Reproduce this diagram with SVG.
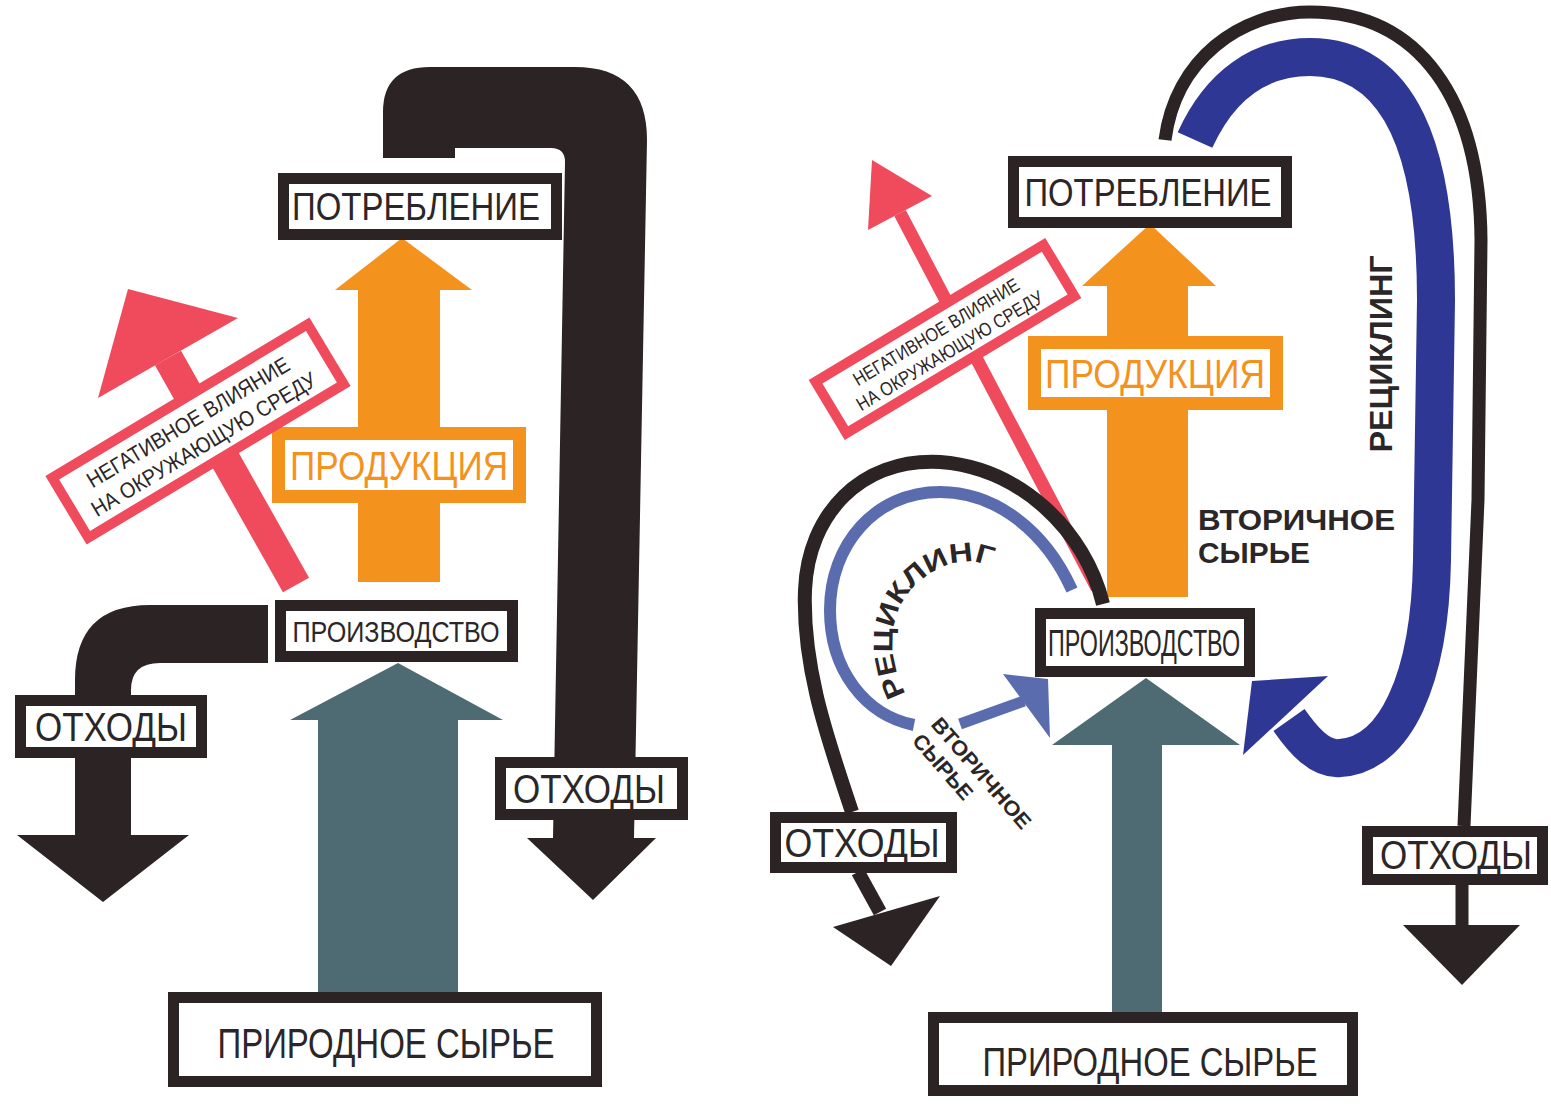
<svg xmlns="http://www.w3.org/2000/svg" width="1551" height="1106" viewBox="0 0 1551 1106">
<defs>
<style>
.bx{fill:#fff;stroke:#2b2324;stroke-width:11}
.ob{fill:#fff;stroke:#f4921e;stroke-width:13}
.rb{fill:#fff;stroke:#ef4b5c;stroke-width:10}
.pipe{fill:#2b2324}
.org{fill:#f4921e}
.red{fill:#ef4b5c}
.teal{fill:#4e6b73}
.t{font-family:"Liberation Sans",Arial,sans-serif;fill:#2b2627;text-anchor:middle}
.tb{font-family:"Liberation Sans",Arial,sans-serif;fill:#2b2627;font-weight:bold}
.to{font-family:"Liberation Sans",Arial,sans-serif;fill:#f4921e;text-anchor:middle}
</style>
</defs>
<rect width="1551" height="1106" fill="#fff"/>

<g id="connectors">
  <!-- LEFT DIAGRAM -->
  <path id="l-waste-top" class="pipe" d="M383 158 L383 112 Q383 67 430 67 L575 67 Q647 67 647 140 L634 838 L656 838 L593 900 L527 838 L553 838 L565 162 Q565 148 551 148 L455 148 L455 158 Z"/>
  <path id="l-waste-left" class="pipe" d="M268 605 L150 605 Q75 605 75 680 L75 835 L17 835 L103 902 L189 835 L131 835 L131 690 Q131 663 160 663 L268 663 Z"/>
  <polygon id="l-product" class="org" points="402,238 472,290 440,290 440,582 358,582 358,290 335,290"/>
  <polygon id="l-raw" class="teal" points="398,663 503,720 458,720 458,992 318,992 318,720 290,720"/>
  <line id="l-neg-shaft" x1="168" y1="358" x2="296" y2="585" stroke="#ef4b5c" stroke-width="30"/>
  <polygon id="l-neg-head" class="red" points="128,289 238,318 98,398"/>

  <!-- RIGHT DIAGRAM -->
  <polygon id="r-product" class="org" points="1150,224 1216,286 1188,286 1188,597 1107,597 1107,286 1082,286"/>
  <polygon id="r-raw" class="teal" points="1146,678 1240,745 1162,745 1162,1012 1112,1012 1112,745 1052,745"/>
  <line id="r-neg-shaft" x1="900" y1="213" x2="1097" y2="588" stroke="#ef4b5c" stroke-width="13"/>
  <polygon id="r-neg-head" class="red" points="872,160 932,196 868,230"/>
  <path id="r-black-big" d="M1165 140 C1175 60 1240 12 1310 12 C1420 12 1480 100 1481 240 L1478 500 L1464 826" fill="none" stroke="#2b2324" stroke-width="13"/>
  <line x1="1462" y1="884" x2="1462" y2="927" stroke="#2b2324" stroke-width="13"/>
  <polygon class="pipe" points="1403,925 1520,925 1462,985"/>
  <path id="r-blue-big" d="M1195 140 C1220 85 1260 57 1310 57 C1400 57 1436 150 1436 300 L1432 560 C1430 680 1395 755 1340 758 C1320 760 1303 740 1289 720" fill="none" stroke="#2f3795" stroke-width="38"/>
  <polygon fill="#2f3795" points="1252,681 1328,676 1243,755"/>
  <path id="r-blue-small" d="M1072 590 C1045 530 995 492 940 492 C875 492 830 545 830 610 C830 670 865 715 914 725" fill="none" stroke="#5a6cad" stroke-width="12"/>
  <line x1="960" y1="724" x2="1024" y2="701" stroke="#5a6cad" stroke-width="11"/>
  <polygon fill="#5a6cad" points="1003,674 1048,679 1050,738"/>
  <path id="r-black-small" d="M1103 604 C1085 530 1020 468 940 462 C860 458 808 515 805 590 C802 670 830 745 852 812" fill="none" stroke="#2b2324" stroke-width="14"/>
  <line x1="858" y1="872" x2="880" y2="912" stroke="#2b2324" stroke-width="14"/>
  <polygon class="pipe" points="833,927 940,896 891,966"/>
</g>

<!-- LEFT NODES -->
<g id="l-consumption">
  <rect class="bx" x="283.5" y="178.5" width="273" height="56"/>
  <text class="t" x="416" y="220" font-size="38" textLength="248" lengthAdjust="spacingAndGlyphs">ПОТРЕБЛЕНИЕ</text>
</g>
<g id="l-production-label">
  <rect class="ob" x="278.5" y="433.5" width="241" height="63"/>
  <text class="to" x="399" y="480" font-size="40" textLength="218" lengthAdjust="spacingAndGlyphs">ПРОДУКЦИЯ</text>
</g>
<g id="l-negative" transform="translate(198,431) rotate(-31)">
  <rect class="rb" x="-149" y="-35" width="298" height="70"/>
  <text class="t" x="-4" y="-5" font-size="22" textLength="232" lengthAdjust="spacingAndGlyphs">НЕГАТИВНОЕ ВЛИЯНИЕ</text>
  <text class="t" x="-2" y="22" font-size="22" textLength="258" lengthAdjust="spacingAndGlyphs">НА ОКРУЖАЮЩУЮ СРЕДУ</text>
</g>
<g id="l-manufacturing">
  <rect class="bx" x="280.5" y="605.5" width="232" height="51"/>
  <text class="t" x="396" y="642" font-size="29" textLength="207" lengthAdjust="spacingAndGlyphs">ПРОИЗВОДСТВО</text>
</g>
<g id="l-waste1">
  <rect class="bx" x="20.5" y="700.5" width="181" height="52"/>
  <text class="t" x="111" y="741" font-size="40" textLength="152" lengthAdjust="spacingAndGlyphs">ОТХОДЫ</text>
</g>
<g id="l-waste2">
  <rect class="bx" x="500.5" y="762.5" width="182" height="52"/>
  <text class="t" x="589" y="803" font-size="40" textLength="152" lengthAdjust="spacingAndGlyphs">ОТХОДЫ</text>
</g>
<g id="l-natural">
  <rect class="bx" x="173.5" y="997.5" width="423" height="84"/>
  <text class="t" x="386" y="1058" font-size="42" textLength="337" lengthAdjust="spacingAndGlyphs">ПРИРОДНОЕ СЫРЬЕ</text>
</g>

<!-- RIGHT NODES -->
<g id="r-consumption">
  <rect class="bx" x="1013.5" y="161.5" width="273" height="61"/>
  <text class="t" x="1148" y="206" font-size="38" textLength="247" lengthAdjust="spacingAndGlyphs">ПОТРЕБЛЕНИЕ</text>
</g>
<g id="r-production-label">
  <rect class="ob" x="1034.5" y="342.5" width="242" height="61"/>
  <text class="to" x="1155" y="388" font-size="40" textLength="220" lengthAdjust="spacingAndGlyphs">ПРОДУКЦИЯ</text>
</g>
<g id="r-negative" transform="translate(945,339) rotate(-31)">
  <rect class="rb" x="-133" y="-30" width="266" height="60"/>
  <text class="t" x="-4" y="-4" font-size="19" textLength="190" lengthAdjust="spacingAndGlyphs">НЕГАТИВНОЕ ВЛИЯНИЕ</text>
  <text class="t" x="-2" y="19" font-size="19" textLength="214" lengthAdjust="spacingAndGlyphs">НА ОКРУЖАЮЩУЮ СРЕДУ</text>
</g>
<g id="r-manufacturing">
  <rect class="bx" x="1040.5" y="613.5" width="209" height="58"/>
  <text class="t" x="1144" y="656" font-size="37" textLength="192" lengthAdjust="spacingAndGlyphs">ПРОИЗВОДСТВО</text>
</g>
<g id="r-waste1">
  <rect class="bx" x="775.5" y="817.5" width="176" height="50"/>
  <text class="t" x="862" y="857" font-size="40" textLength="155" lengthAdjust="spacingAndGlyphs">ОТХОДЫ</text>
</g>
<g id="r-waste2">
  <rect class="bx" x="1367.5" y="831.5" width="175" height="48"/>
  <text class="t" x="1456" y="869" font-size="40" textLength="152" lengthAdjust="spacingAndGlyphs">ОТХОДЫ</text>
</g>
<g id="r-natural">
  <rect class="bx" x="933.5" y="1017.5" width="419" height="73"/>
  <text class="t" x="1150" y="1076" font-size="40" textLength="335" lengthAdjust="spacingAndGlyphs">ПРИРОДНОЕ СЫРЬЕ</text>
</g>

<!-- RIGHT LABELS -->
<g id="r-labels">
  <text class="tb" x="1198" y="530" font-size="29" textLength="197" lengthAdjust="spacingAndGlyphs">ВТОРИЧНОЕ</text>
  <text class="tb" x="1198" y="563" font-size="29" textLength="112" lengthAdjust="spacingAndGlyphs">СЫРЬЕ</text>
  <text class="tb" transform="translate(1392,354) rotate(-90)" x="0" y="0" font-size="32" text-anchor="middle" textLength="197" lengthAdjust="spacingAndGlyphs">РЕЦИКЛИНГ</text>
  <g transform="translate(930,725) rotate(49)">
    <text class="tb" x="0" y="0" font-size="21" textLength="140" lengthAdjust="spacingAndGlyphs">ВТОРИЧНОЕ</text>
    <text class="tb" x="0" y="25" font-size="21" textLength="80" lengthAdjust="spacingAndGlyphs">СЫРЬЕ</text>
  </g>
  <path id="arcpath" d="M906 694 C886 656 888 614 913 588 C940 560 980 550 1010 580" fill="none"/>
  <text class="tb" font-size="27"><textPath href="#arcpath" textLength="200" lengthAdjust="spacingAndGlyphs">РЕЦИКЛИНГ</textPath></text>
</g>
</svg>
